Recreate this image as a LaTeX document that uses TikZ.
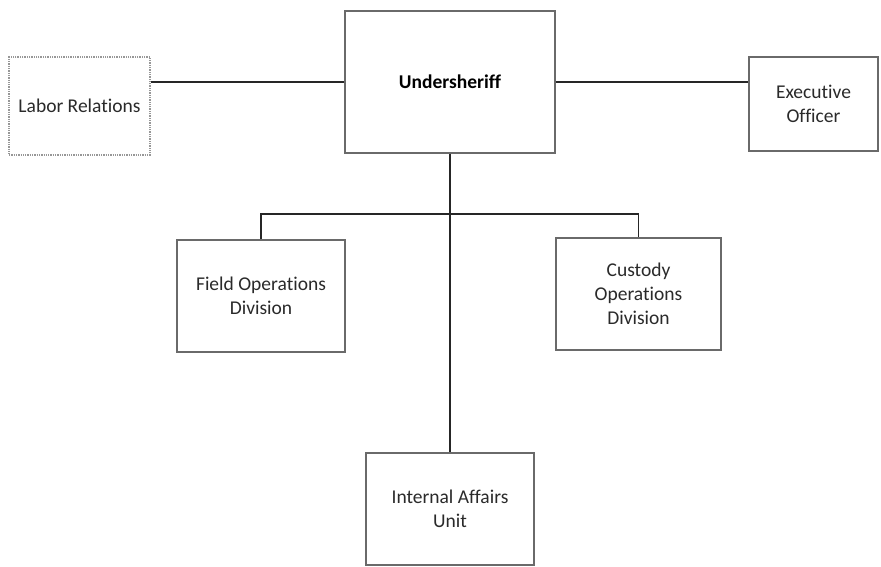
\documentclass[tikz,border=0pt]{standalone}
\usepackage{fontspec}
\setmainfont{Carlito}[Ligatures=NoCommon]
\definecolor{boxline}{HTML}{6A6A6A}
\definecolor{txt}{HTML}{2A2A2A}
\tikzset{
  unit/.style={draw=boxline, line width=1.3pt, fill=white, align=center, inner sep=0pt,
    text=txt, font=\fontsize{19.5}{24}\selectfont},
  link/.style={line width=1.8pt, draw=black!85}
}
\begin{document}
\begin{tikzpicture}[x=1pt,y=-1pt]
\useasboundingbox (0,0) rectangle (881,566);

\node[unit, draw=boxline!70, densely dotted, minimum width=141pt, minimum height=98pt] (labor) at (79.5,106) {Labor Relations};
\node[unit, minimum width=210pt, minimum height=142pt, font=\fontsize{19.5}{24}\selectfont\bfseries, text=black] (under) at (450,82) {Undersheriff};
\node[unit, minimum width=129pt, minimum height=94pt] (exec) at (813.5,104) {Executive\\Officer};

\node[unit, minimum width=168pt, minimum height=112pt] (field) at (261,296) {Field Operations\\Division};
\node[unit, minimum width=165pt, minimum height=112pt] (custody) at (638.5,294) {Custody\\Operations\\Division};
\node[unit, minimum width=168pt, minimum height=112pt] (internal) at (450,509) {Internal Affairs\\Unit};

\coordinate (bus) at (450,214);

\draw[link] (under.west) -- (under.west -| labor.east);
\draw[link] (under.east) -- (under.east -| exec.west);
\draw[link] (under.south) -- (internal.north);
\draw[link] (field.north) |- (bus) -| (custody.north);
\end{tikzpicture}
\end{document}
